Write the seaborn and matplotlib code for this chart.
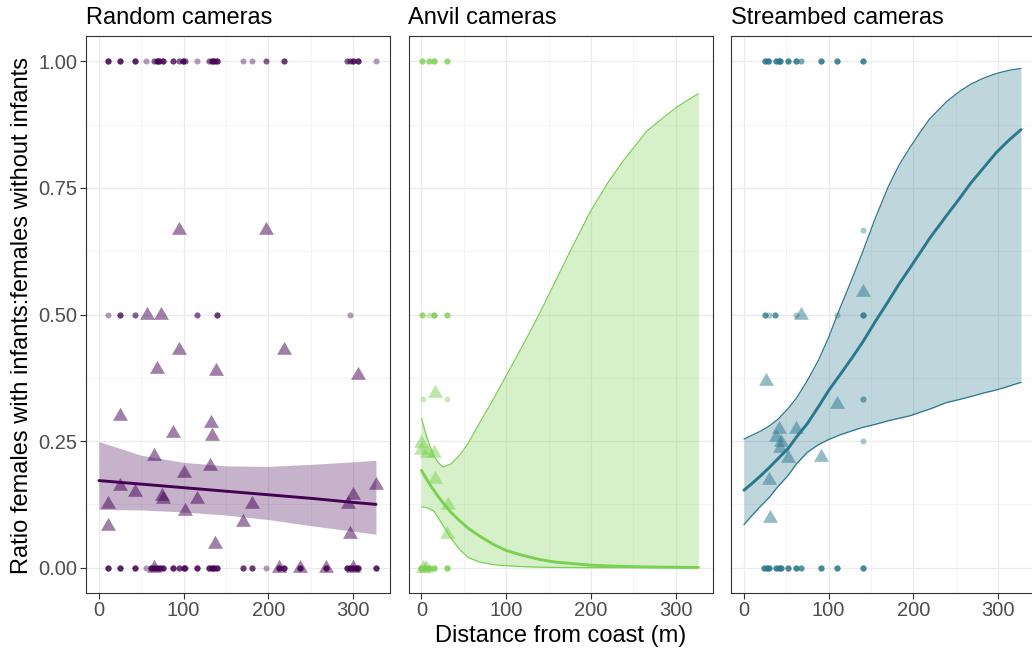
import numpy as np
import pandas as pd
import matplotlib
matplotlib.use("Agg")
import matplotlib.pyplot as plt
import matplotlib.path as mpath
import seaborn as sns

# ---------------- data ----------------
panel_titles = ["Random cameras", "Anvil cameras", "Streambed cameras"]
panel_colors = ["#440154", "#7AD151", "#2A788E"]

# raw observation dots (x, y, overlap count)
p1_dot_x = [11, 25, 43, 56, 65, 68, 71, 76, 87, 95, 99, 102, 116, 130, 133, 136, 139, 170, 181, 197, 218, 293, 296, 300, 306, 327,
            11, 25, 43, 56, 61, 65, 68, 72, 76, 87, 95, 100, 102, 116, 130, 133, 136, 139, 170, 181, 197, 212, 218, 237, 268, 293, 296, 300, 303, 306, 327,
            11, 25, 43, 116, 139, 296]
p1_dot_y = [1.0] * 26 + [0.0] * 31 + [0.5] * 6
p1_dot_n = [4, 4, 4, 1, 2, 4, 4, 4, 3, 2, 4, 2, 1, 2, 4, 4, 4, 1, 1, 2, 3, 2, 2, 4, 4, 1,
            4, 4, 4, 1, 4, 4, 4, 4, 4, 4, 3, 4, 2, 4, 4, 4, 4, 4, 3, 3, 1, 4, 4, 4, 4, 4, 4, 4, 4, 4, 4,
            1, 3, 2, 2, 3, 1]

p2_dot_x = [1, 9, 15, 30, 1, 9, 15, 30, 2, 30, 0, 4, 9, 15, 30]
p2_dot_y = [1.0] * 4 + [0.5] * 4 + [0.333] * 2 + [0.0] * 5
p2_dot_n = [3, 3, 4, 3, 3, 1, 4, 3, 1, 1, 4, 4, 4, 4, 4]

p3_dot_x = [25, 28, 30, 38, 41, 43, 52, 61, 67, 91, 110, 140,
            24, 27, 30, 38, 41, 44, 52, 61, 67, 91, 110, 140,
            25, 29, 37, 61, 110, 140, 140, 140, 140]
p3_dot_y = [1.0] * 12 + [0.0] * 12 + [0.5] * 6 + [0.667, 0.333, 0.25]
p3_dot_n = [4, 4, 1, 4, 4, 4, 4, 4, 2, 4, 4, 4,
            4, 4, 4, 4, 4, 4, 4, 4, 3, 4, 4, 4,
            3, 1, 3, 1, 1, 4, 1, 2, 1]

# per-camera ratios (triangles)
p1_tri_x = [57, 73, 95, 197, 95, 218, 68, 138, 306, 25, 132, 87, 134, 65, 131, 100, 25, 327, 43, 75, 76, 116, 300,
            11, 181, 294, 101, 11, 170, 296, 137, 65, 212, 237, 268, 300]
p1_tri_y = [0.5, 0.5, 0.667, 0.667, 0.43, 0.43, 0.393, 0.389, 0.38, 0.30, 0.285, 0.266, 0.26, 0.22, 0.2, 0.186, 0.162, 0.164,
            0.149, 0.141, 0.135, 0.135, 0.143, 0.125, 0.125, 0.125, 0.111, 0.083, 0.09, 0.067, 0.046, 0, 0, 0, 0, 0]

p2_tri_x = [16, 0, 0, 6, 15, 16, 31, 30, 2, 5]
p2_tri_y = [0.344, 0.247, 0.233, 0.227, 0.227, 0.176, 0.124, 0.066, 0.0, 0.0]

p3_tri_x = [140, 67, 26, 110, 41, 61, 38, 44, 42, 52, 91, 30, 31]
p3_tri_y = [0.545, 0.5, 0.369, 0.323, 0.273, 0.273, 0.258, 0.248, 0.237, 0.217, 0.219, 0.174, 0.099]

# fitted curves and confidence bands
p1_fit_x = [0, 50, 100, 150, 200, 250, 300, 327]
p1_fit_y = [0.172, 0.165, 0.158, 0.151, 0.144, 0.137, 0.129, 0.125]
p1_ci_hi = [0.249, 0.222, 0.208, 0.201, 0.200, 0.204, 0.209, 0.212]
p1_ci_lo = [0.115, 0.114, 0.110, 0.104, 0.095, 0.083, 0.072, 0.066]

p2_fit_x = [0, 5, 10, 15, 20, 26, 35, 45, 55, 69, 85, 100, 120, 140, 158, 175, 199, 220, 238, 266, 285, 301, 315, 327]
p2_fit_y = [0.192, 0.178, 0.164, 0.152, 0.140, 0.127, 0.109, 0.093, 0.078, 0.062, 0.046, 0.034, 0.024, 0.016, 0.011,
            0.0085, 0.005, 0.0035, 0.0025, 0.0015, 0.001, 0.0008, 0.0006, 0.0005]
p2_ci_hi = [0.295, 0.265, 0.240, 0.220, 0.207, 0.199, 0.205, 0.222, 0.245, 0.287, 0.333, 0.379, 0.44, 0.504, 0.565,
            0.623, 0.702, 0.76, 0.803, 0.862, 0.888, 0.909, 0.924, 0.936]
p2_ci_lo = [0.120, 0.119, 0.116, 0.111, 0.098, 0.082, 0.058, 0.036, 0.020, 0.011, 0.006, 0.004, 0.002, 0.001, 0.0005,
            0.0003, 0.0001, 0, 0, 0, 0, 0, 0, 0]

p3_fit_x = [0, 10, 20, 30, 40, 52, 62, 75, 88, 100, 113, 127, 140, 155, 170, 183, 196, 208, 219, 239, 254, 268, 283, 298, 312, 327]
p3_fit_y = [0.153, 0.167, 0.182, 0.198, 0.215, 0.235, 0.258, 0.285, 0.318, 0.35, 0.38, 0.413, 0.445, 0.486, 0.525, 0.56,
            0.592, 0.622, 0.65, 0.695, 0.728, 0.76, 0.79, 0.82, 0.843, 0.865]
p3_ci_hi = [0.254, 0.262, 0.27, 0.28, 0.293, 0.314, 0.335, 0.37, 0.41, 0.455, 0.511, 0.568, 0.623, 0.69, 0.751, 0.795,
            0.83, 0.86, 0.886, 0.92, 0.94, 0.955, 0.967, 0.976, 0.982, 0.986]
p3_ci_lo = [0.085, 0.104, 0.122, 0.139, 0.16, 0.182, 0.205, 0.228, 0.243, 0.253, 0.262, 0.27, 0.277, 0.283, 0.29, 0.295,
            0.30, 0.307, 0.313, 0.326, 0.332, 0.338, 0.345, 0.351, 0.358, 0.366]

x_ticks = [0, 100, 200, 300]
y_ticks = [0.0, 0.25, 0.5, 0.75, 1.0]
y_tick_labels = ["0.00", "0.25", "0.50", "0.75", "1.00"]
x_title = "Distance from coast (m)"
y_title = "Ratio females with infants:females without infants"

# ---------------- style ----------------
sns.set_theme(style="white")
plt.rcParams["font.family"] = ["Liberation Sans", "DejaVu Sans"]

W, H = 1032, 650
fig = plt.figure(figsize=(W / 100, H / 100), dpi=100)

tri_marker = mpath.Path([(0, 1), (-0.866, -0.5), (0.866, -0.5), (0, 1)], closed=True)

panels = [
    (p1_dot_x, p1_dot_y, p1_dot_n, p1_tri_x, p1_tri_y, p1_fit_x, p1_fit_y, p1_ci_lo, p1_ci_hi, False),
    (p2_dot_x, p2_dot_y, p2_dot_n, p2_tri_x, p2_tri_y, p2_fit_x, p2_fit_y, p2_ci_lo, p2_ci_hi, True),
    (p3_dot_x, p3_dot_y, p3_dot_n, p3_tri_x, p3_tri_y, p3_fit_x, p3_fit_y, p3_ci_lo, p3_ci_hi, True),
]
lefts_px = [86, 408.5, 731]
ax_w_px, top_px, bot_px = 304, 36, 593

for i, (dx, dy, dn, tx, ty, fx, fy, lo, hi, edge) in enumerate(panels):
    col = panel_colors[i]
    ax = fig.add_axes([lefts_px[i] / W, (H - bot_px) / H, ax_w_px / W, (bot_px - top_px) / H])
    ax.set_facecolor("white")

    dots = pd.DataFrame({"x": np.repeat(dx, dn), "y": np.repeat(dy, dn)})
    sns.scatterplot(data=dots, x="x", y="y", ax=ax, color=col, alpha=0.4, s=19,
                    linewidth=0, legend=False, zorder=3)
    tris = pd.DataFrame({"x": tx, "y": ty})
    sns.scatterplot(data=tris, x="x", y="y", ax=ax, color=col, alpha=0.5, s=155,
                    marker=tri_marker, linewidth=0, legend=False, zorder=3)

    ax.fill_between(fx, lo, hi, color=col, alpha=0.3, linewidth=0, zorder=4)
    if edge:
        sns.lineplot(x=fx, y=lo, ax=ax, color=col, linewidth=0.9, zorder=5)
        sns.lineplot(x=fx, y=hi, ax=ax, color=col, linewidth=0.9, zorder=5)
    sns.lineplot(x=fx, y=fy, ax=ax, color=col, linewidth=2.1, zorder=6)

    ax.set_xlim(-15.3, 343.6)
    ax.set_ylim(-0.05, 1.05)
    ax.set_xticks(x_ticks)
    ax.set_xticks([50, 150, 250], minor=True)
    ax.set_yticks(y_ticks)
    ax.set_yticks([0.125, 0.375, 0.625, 0.875], minor=True)
    ax.grid(True, which="major", color="#EBEBEB", linewidth=0.9, zorder=0)
    ax.grid(True, which="minor", color="#F0F0F0", linewidth=0.5, zorder=0)
    ax.set_axisbelow(True)
    for s in ax.spines.values():
        s.set_color("#333333")
        s.set_linewidth(0.8)
    ax.tick_params(axis="both", which="major", direction="out", length=4, width=0.8,
                   color="#333333", labelcolor="#4D4D4D", labelsize=14.5, pad=2)
    ax.tick_params(axis="both", which="minor", length=0)
    ax.tick_params(axis="x", bottom=True)
    if i == 0:
        ax.tick_params(axis="y", left=True)
        ax.set_yticklabels(y_tick_labels)
    else:
        ax.tick_params(axis="y", left=False, labelleft=False)
    ax.set_xlabel("")
    ax.set_ylabel("")
    ax.text(0.0, 1.021, panel_titles[i], transform=ax.transAxes, ha="left", va="baseline",
            fontsize=17, color="black")

fig.text(561 / W, 1 - 636 / H, x_title, ha="center", va="center", fontsize=17, color="black")
fig.text(22 / W, 1 - 315 / H, y_title, ha="center", va="center", rotation=90, fontsize=17, color="black")

fig.savefig("out.png", dpi=100, facecolor="white")
